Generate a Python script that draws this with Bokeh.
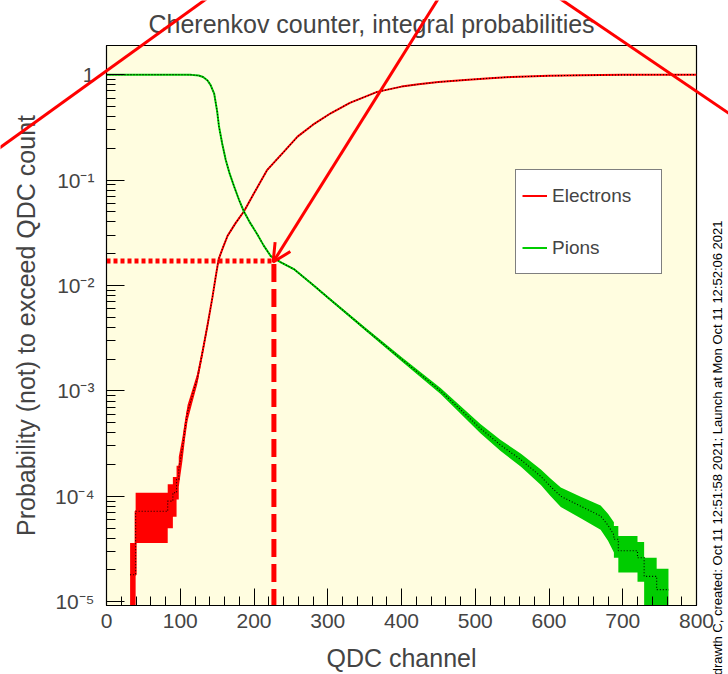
import math
import numpy as np
from bokeh.plotting import figure
from bokeh.layouts import column
from bokeh.models import (Range1d, FixedTicker, SingleIntervalTicker, Legend, LegendItem,
                          Arrow, OpenHead, CustomJSTickFormatter)
from bokeh.core.properties import value
from bokeh.embed import file_html
from bokeh.resources import INLINE

# ---------------- data ----------------
electron_events = 55500
pion_events = 230000

electron_channel = [32, 39.5, 39.5, 83, 83, 90, 90, 95, 95, 98, 98, 103, 106.5, 110, 116.5, 123,
                    130, 137, 143.6, 148, 152, 158, 164, 175, 186.5, 200, 218, 240, 259, 280,
                    304, 330, 367, 400, 423, 450, 486, 520, 549, 600, 643, 700, 800]
electron_prob = [1.8e-5, 1.8e-5, 7.2e-5, 7.2e-5, 9.0e-5, 9.0e-5, 1.08e-4, 1.08e-4, 1.44e-4, 1.44e-4,
                 1.8e-4, 2.9e-4, 4.4e-4, 6.3e-4, 9.1e-4, 1.3e-3, 2.3e-3, 4.2e-3, 7.7e-3, 1.2e-2,
                 1.77e-2, 2.3e-2, 2.94e-2, 3.9e-2, 5.06e-2, 7.5e-2, 0.125, 0.184, 0.258, 0.335,
                 0.43, 0.54, 0.686, 0.77, 0.81, 0.85, 0.89, 0.925, 0.95, 0.975, 0.986, 0.995, 1.0]

pion_channel = [0, 95, 115, 125, 131, 137, 141, 146, 150, 152.6, 157, 161.7, 167, 173, 180, 186.5,
                195, 204.6, 213, 222.7, 237, 254, 281, 300, 350, 400, 453, 507, 534, 562, 589,
                602, 616, 643, 670, 680, 688, 688, 694, 694, 720, 720, 729, 729, 746, 746, 762]
pion_prob = [1.0, 1.0, 0.995, 0.98, 0.95, 0.88, 0.8, 0.66, 0.45, 0.32, 0.22, 0.155, 0.115, 0.087,
             0.064, 0.05, 0.039, 0.0305, 0.024, 0.019, 0.0165, 0.0143, 0.010, 7.7e-3, 3.9e-3,
             2.0e-3, 1.0e-3, 4.4e-4, 3.07e-4, 2.22e-4, 1.54e-4, 1.24e-4, 1.0e-4, 8.05e-5, 6.5e-5,
             5.3e-5, 4.3e-5, 3.91e-5, 3.91e-5, 3.04e-5, 3.04e-5, 2.61e-5, 2.61e-5, 1.74e-5,
             1.74e-5, 1.30e-5, 1.30e-5]

x_tick_values = [0, 100, 200, 300, 400, 500, 600, 700, 800]
y_tick_values = [1e-5, 1e-4, 1e-3, 1e-2, 1e-1, 1.0]
y_tick_labels = ["10\u207b\u2075", "10\u207b\u2074", "10\u207b\u00b3", "10\u207b\u00b2", "10\u207b\u00b9", "1"]

# marked working point (pion probability at the chosen QDC cut)
cut_channel = 227
cut_prob = 0.0171

series_names = ["Electrons", "Pions"]
stamp_text = "drawth C, created: Oct 11 12:51:58 2021; Launch at Mon Oct 11 12:52:06 2021"
title_text = "Cherenkov counter, integral probabilities"

# hand-drawn red strokes over the picture, in the chart's own units (x0, y0, x1, y1)
overlay_strokes = [(-171, 0.151, 160, 6.92), (596, 6.42, 866, 0.340)]
arrow_start = (461, 6.96)
stamp_anchor = (828, 0.0422)

# ---------------- layout / styles ----------------
FONT = "Liberation Sans"
RED = "#ff0000"
GREEN = "#00cc00"
FRAME_BG = "#fffde0"
W, H = 728, 674
BL, BR, BT, BB = 106, 32, 45, 66
X0, X1 = 0, 800
Y0, Y1 = 9.2e-6, 1.89

p = figure(width=W, height=H, y_axis_type="log",
           x_range=Range1d(X0, X1), y_range=Range1d(Y0, Y1),
           output_backend="svg", toolbar_location=None,
           min_border_left=BL, min_border_right=BR, min_border_top=BT, min_border_bottom=BB)
p.frame_align = False

p.background_fill_color = FRAME_BG
p.border_fill_color = "white"
p.outline_line_color = "black"
p.outline_line_width = 1.2
p.xgrid.visible = False
p.ygrid.visible = False

p.title.text = title_text
p.title.align = "left"
p.title.offset = 42
p.title.text_font = FONT
p.title.text_font_size = "25px"
p.title.text_font_style = "normal"
p.title.standoff = 15

# x axis
xa = p.xaxis[0]
xa.ticker = SingleIntervalTicker(interval=100, num_minor_ticks=5)
xa.major_tick_in = 17
xa.major_tick_out = 0
xa.minor_tick_in = 9
xa.minor_tick_out = 0
xa.major_tick_line_color = "black"
xa.minor_tick_line_color = "black"
xa.axis_line_color = "black"
xa.major_label_text_font = FONT
xa.major_label_text_font_size = "21px"
xa.major_label_standoff = 8
xa.axis_label = "QDC channel"
xa.axis_label_text_font = FONT
xa.axis_label_text_font_size = "25px"
xa.axis_label_text_font_style = "normal"
xa.axis_label_standoff = 13

# y axis
ya = p.yaxis[0]
minor = [m * 10.0 ** e for e in range(-6, 1) for m in range(2, 10)]
ya.ticker = FixedTicker(ticks=y_tick_values, minor_ticks=minor)
ya.formatter = CustomJSTickFormatter(args=dict(vals=y_tick_values, labs=y_tick_labels), code="""
let best = 0, bd = Infinity;
for (let i = 0; i < vals.length; i++) {
  const d = Math.abs(Math.log10(tick) - Math.log10(vals[i]));
  if (d < bd) { bd = d; best = i; }
}
return labs[best];
""")
ya.major_tick_in = 18
ya.major_tick_out = 0
ya.minor_tick_in = 9
ya.minor_tick_out = 0
ya.major_tick_line_color = "black"
ya.minor_tick_line_color = "black"
ya.axis_line_color = "black"
ya.major_label_text_font = FONT
ya.major_label_text_font_size = "21px"
ya.major_label_standoff = 12
ya.axis_label = "Probability (not) to exceed QDC count"
ya.axis_label_text_font = FONT
ya.axis_label_text_font_size = "25px"
ya.axis_label_text_font_style = "normal"
ya.axis_label_standoff = 12


def band(xs, ys, n):
    x = np.asarray(xs, float)
    y = np.asarray(ys, float)
    err = np.sqrt(y / n)
    lo = np.clip(y - err, 1e-8, None)
    hi = y + err
    return x, y, lo, hi


legend_renderers = []
for xs, ys, n, col in [(electron_channel, electron_prob, electron_events, RED),
                       (pion_channel, pion_prob, pion_events, GREEN)]:
    x, y, lo, hi = band(xs, ys, n)
    p.varea(x=x, y1=lo, y2=hi, fill_color=col, fill_alpha=1.0)
    r = p.line(x, y, line_color=col, line_width=2)
    p.line(x, y, line_color="black", line_width=1.1, line_dash="1 2")
    legend_renderers.append(r)

# working-point guide lines
p.segment(x0=[0], y0=[cut_prob], x1=[cut_channel - 1], y1=[cut_prob],
          line_color=RED, line_width=5, line_dash="4 3")
p.segment(x0=[cut_channel], y0=[1e-6], x1=[cut_channel], y1=[cut_prob],
          line_color=RED, line_width=5, line_dash="18 7")

legend = Legend(items=[LegendItem(label=series_names[0], renderers=[legend_renderers[0]]),
                       LegendItem(label=series_names[1], renderers=[legend_renderers[1]])],
                location=(409, 331), orientation="vertical",
                padding=6, spacing=13, margin=0,
                glyph_width=25, glyph_height=39, label_height=39, label_width=103,
                label_standoff=5,
                label_text_font=FONT, label_text_font_size="19px",
                border_line_color="black", border_line_width=1,
                background_fill_color="white", background_fill_alpha=1.0)
p.add_layout(legend)

# ---------- transparent overlay sharing the same data mapping over the whole canvas ----------
fw, fh = W - BL - BR, H - BT - BB
sx = (X1 - X0) / fw
ly0, ly1 = math.log10(Y0), math.log10(Y1)
sy = (ly1 - ly0) / fh
ov = figure(width=W, height=H, y_axis_type="log",
            x_range=Range1d(X0 - BL * sx, X1 + BR * sx),
            y_range=Range1d(10 ** (ly0 - BB * sy), 10 ** (ly1 + BT * sy)),
            output_backend="svg", toolbar_location=None,
            x_axis_location=None, y_axis_location=None, min_border=0,
            styles={"position": "absolute", "top": "0px", "left": "0px"})
ov.frame_align = False
ov.grid.visible = False
ov.outline_line_color = None
ov.background_fill_alpha = 0
ov.border_fill_alpha = 0

for x0, y0, x1, y1 in overlay_strokes:
    ov.line([x0, x1], [y0, y1], line_color=RED, line_width=3)
ov.add_layout(Arrow(end=OpenHead(size=18, line_color=RED, line_width=3),
                    x_start=arrow_start[0], y_start=arrow_start[1],
                    x_end=cut_channel - 1, y_end=cut_prob,
                    line_color=RED, line_width=3))
ov.text(x=[stamp_anchor[0]], y=[stamp_anchor[1]], text=[stamp_text], angle=math.pi / 2,
        text_align="right", text_baseline="middle",
        text_font=value(FONT), text_font_size="13px", text_color="black")

layout = column(p, ov, styles={"position": "relative"})
open("out.html", "w").write(file_html(layout, INLINE))
